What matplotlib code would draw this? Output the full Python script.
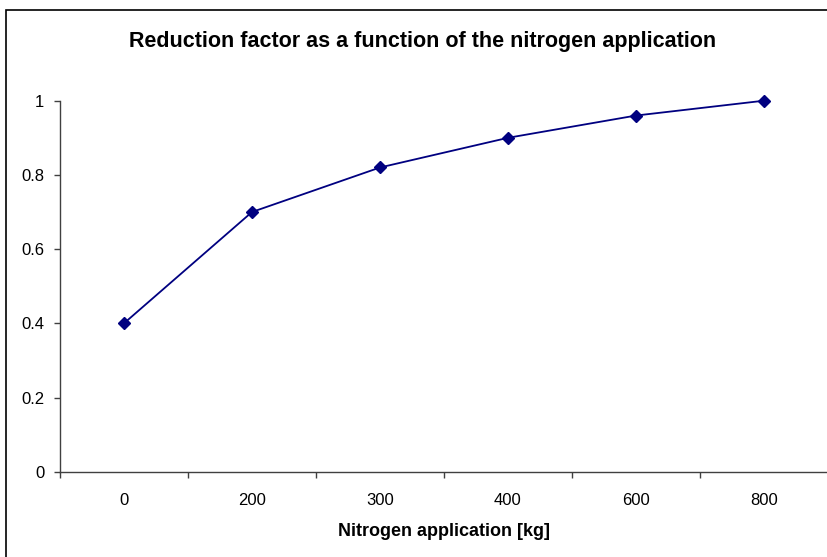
import matplotlib.pyplot as plt
from matplotlib.patches import Rectangle

plt.rcParams['font.family'] = ['Liberation Sans', 'DejaVu Sans']

# data
categories = ["0", "200", "300", "400", "600", "800"]
reduction = [0.4, 0.7, 0.82, 0.9, 0.96, 1.0]
yticks = [0, 0.2, 0.4, 0.6, 0.8, 1]
ytick_labels = ["0", "0.2", "0.4", "0.6", "0.8", "1"]

fig = plt.figure(figsize=(8.28, 5.57), dpi=100)
ax = fig.add_axes([60/828, 1 - 471.7/557, 768/828, 371/557])

x = list(range(len(categories)))
ax.plot(x, reduction, color="#000080", lw=1.3, marker="D", ms=6,
        mfc="#000080", mec="#000080", clip_on=False, zorder=3)

ax.set_xlim(-0.5, len(categories) - 0.5)
ax.set_ylim(0, 1)
ax.set_xticks(x)
ax.set_xticklabels(categories, fontsize=12)
ax.set_xticks([i + 0.5 for i in range(-1, len(categories))], minor=True)
ax.tick_params(axis="x", which="major", length=0, pad=15)
ax.tick_params(axis="x", which="minor", length=4.3, width=1, color="#404040")
ax.set_yticks(yticks)
ax.set_yticklabels(ytick_labels, fontsize=12)
ax.tick_params(axis="y", length=4.3, width=1, color="#404040", pad=7)

for s in ["top", "right"]:
    ax.spines[s].set_visible(False)
for s in ["left", "bottom"]:
    ax.spines[s].set_color("#404040")
    ax.spines[s].set_linewidth(1)

fig.text(422.5/828, 1 - 46.7/557, "Reduction factor as a function of the nitrogen application",
         ha="center", va="baseline", fontsize=15.5, fontweight="bold")
fig.text(443.5/828, 1 - 536/557, "Nitrogen application [kg]",
         ha="center", va="baseline", fontsize=13, fontweight="bold")

# chart border
fig.patches.append(Rectangle((6/828, -0.1), 1.2, 1 - 10/557 + 0.1,
                             transform=fig.transFigure, fill=False,
                             edgecolor="black", lw=1.2))

fig.savefig("out.png", dpi=100)
